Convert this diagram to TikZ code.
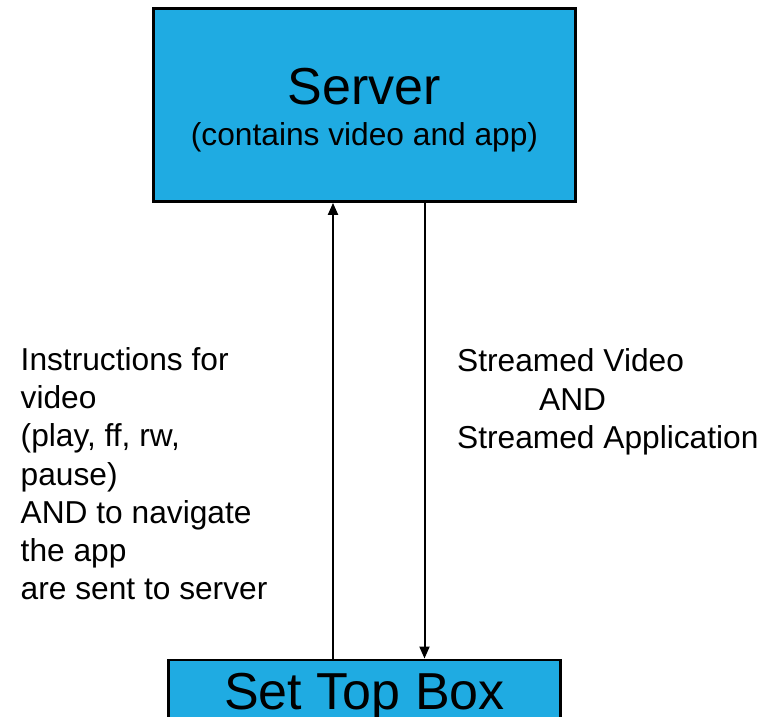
\documentclass[tikz,border=0pt]{standalone}
\usepackage{fontspec}
\setmainfont{Liberation Sans}
\usetikzlibrary{arrows.meta,positioning}
\definecolor{boxblue}{RGB}{31,171,226}

\begin{document}
\begin{tikzpicture}[
    x=1pt,y=-1pt,
    blk/.style={draw=black,line width=2.8pt,fill=boxblue,inner sep=0pt},
    big/.style={font=\fontsize{52}{60}\selectfont,inner sep=0pt},
    txt/.style={font=\fontsize{31.7}{38.3}\selectfont,inner sep=0pt,align=left},
    flow/.style={-{Triangle[length=12pt,width=10pt]},line width=2pt}
  ]
    \useasboundingbox (0,0) rectangle (769,717);
    \node[blk,minimum width=422pt,minimum height=193pt] (server) at (364.5,105) {};
    \node[big,anchor=base] (srvname) at (364.5,105) {Server};
    \node[txt,anchor=base] (srvnote) at (364.5,146) {(contains video and app)};
    \node[blk,big,minimum width=392pt,minimum height=62pt,text height=37pt,text depth=0pt,anchor=north] (stb) at (364.5,658.5) {Set Top Box};
    \draw[flow] ([xshift=-31.5pt]stb.north) -- ([xshift=-31.5pt]server.south);
    \draw[flow] ([xshift=60pt]server.south) -- ([xshift=60pt]stb.north);
    \node[txt,anchor=north west] (req) at (20.5,347)
      {Instructions for\\video\\(play, ff, rw,\\pause)\\AND to navigate\\the app\\are sent to server};
    \node[txt,anchor=north west] (resp) at (457,348.7)
      {Streamed Video\\\hspace*{82pt}AND\\Streamed Application};
\end{tikzpicture}
\end{document}
